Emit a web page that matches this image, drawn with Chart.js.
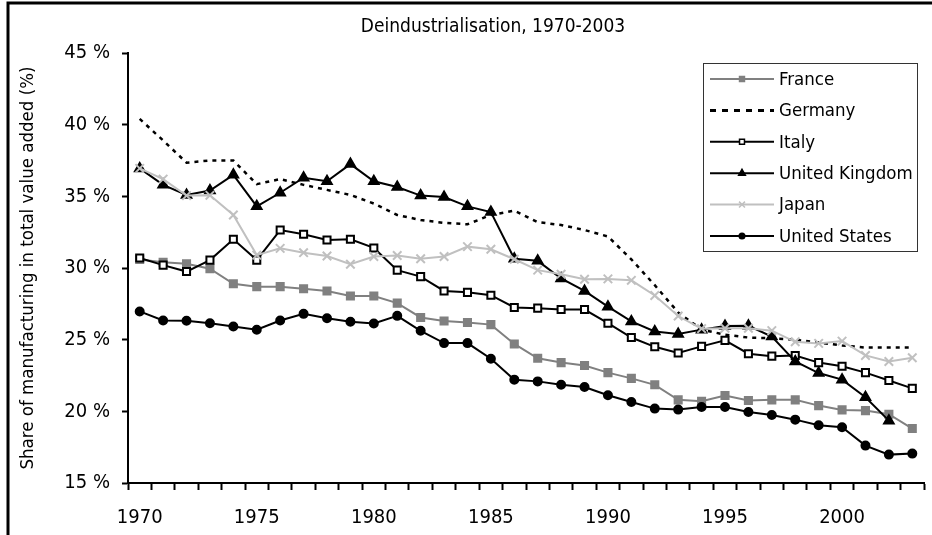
<!DOCTYPE html>
<html>
<head>
<meta charset="utf-8">
<script src="https://cdn.jsdelivr.net/npm/chart.js@4"></script>
<style>
  body { margin: 0; background: #fff; }
  #wrap { width: 932px; height: 535px; }
</style>
</head>
<body>
<div id="wrap"><canvas id="myChart" width="932" height="535"></canvas></div>
<script>
const FONT = "'Liberation Sans Narrow', 'DejaVu Sans Condensed', sans-serif";

const years = [];
for (let y = 1970; y <= 2003; y++) years.push(String(y));

const yTicks = [15, 20, 25, 30, 35, 40, 45];

const france = [30.6, 30.4, 30.3, 29.95, 28.9, 28.7, 28.7, 28.55, 28.4, 28.05, 28.05, 27.55, 26.55, 26.3, 26.2, 26.05, 24.7, 23.7, 23.4, 23.2, 22.7, 22.3, 21.85, 20.8, 20.7, 21.1, 20.75, 20.8, 20.8, 20.4, 20.1, 20.05, 19.8, 18.8];
const germany = [40.4, 38.9, 37.35, 37.5, 37.5, 35.85, 36.2, 35.8, 35.45, 35.1, 34.5, 33.7, 33.35, 33.15, 33.05, 33.7, 34.0, 33.2, 33.0, 32.65, 32.2, 30.6, 28.8, 26.9, 25.7, 25.35, 25.15, 25.1, 25.0, 24.8, 24.6, 24.45, 24.45, 24.45];
const italy = [30.7, 30.2, 29.75, 30.55, 32.0, 30.55, 32.65, 32.35, 31.95, 32.0, 31.4, 29.85, 29.4, 28.4, 28.3, 28.1, 27.25, 27.2, 27.1, 27.1, 26.15, 25.15, 24.5, 24.07, 24.53, 24.95, 24.02, 23.85, 23.9, 23.4, 23.15, 22.7, 22.15, 21.6];
const uk = [36.95, 35.8, 35.1, 35.4, 36.5, 34.3, 35.25, 36.3, 36.05, 37.25, 36.05, 35.65, 35.05, 34.95, 34.3, 33.9, 30.65, 30.5, 29.27, 28.4, 27.3, 26.27, 25.57, 25.39, 25.7, 25.95, 25.97, 25.22, 23.48, 22.67, 22.21, 20.98, 19.35, null];
const japan = [36.95, 36.2, 35.05, 35.07, 33.7, 30.9, 31.37, 31.07, 30.84, 30.26, 30.8, 30.87, 30.65, 30.8, 31.49, 31.31, 30.61, 29.85, 29.57, 29.22, 29.24, 29.14, 28.08, 26.65, 25.77, 25.8, 25.8, 25.63, 24.85, 24.74, 24.9, 23.9, 23.48, 23.74];
const usa = [26.97, 26.34, 26.32, 26.15, 25.92, 25.69, 26.34, 26.8, 26.5, 26.25, 26.13, 26.66, 25.62, 24.76, 24.76, 23.67, 22.21, 22.09, 21.86, 21.7, 21.12, 20.65, 20.19, 20.12, 20.3, 20.3, 19.95, 19.75, 19.42, 19.03, 18.89, 17.61, 16.98, 17.05];

const series = [
    { label: 'France', data: france, color: '#808080', fill: '#808080', style: 'rect', radius: 5, dash: [] },
    { label: 'Germany', data: germany, color: '#000', fill: '#000', style: false, radius: 0, dash: [4, 5] },
    { label: 'Italy', data: italy, color: '#000', fill: '#fff', style: 'rect', radius: 5, dash: [] },
    { label: 'United Kingdom', data: uk, color: '#000', fill: '#000', style: 'triangle', radius: 5.5, dash: [] },
    { label: 'Japan', data: japan, color: '#c0c0c0', fill: '#c0c0c0', style: 'crossRot', radius: 6, dash: [] },
    { label: 'United States', data: usa, color: '#000', fill: '#000', style: 'circle', radius: 4, dash: [] },
];

let datasets = series.map((s, i) => ({
    label: s.label,
    data: s.data,
    borderColor: s.color,
    backgroundColor: s.fill,
    borderWidth: s.dash.length ? 2.5 : 2,
    borderDash: s.dash,
    pointStyle: s.style,
    pointRadius: s.radius,
    pointBorderWidth: 2,
    pointBorderColor: s.color,
    pointBackgroundColor: s.fill,
    tension: 0,
    spanGaps: false,
    order: series.length - i,
}));

// title, legend box and outer frame
const extras = {
    id: 'extras',
    afterDraw(chart) {
        const ctx = chart.ctx;
        ctx.save();
        // frame
        ctx.strokeStyle = '#000';
        ctx.lineWidth = 3;
        ctx.beginPath();
        ctx.moveTo(8, 540);
        ctx.lineTo(8, 3);
        ctx.lineTo(940, 3);
        ctx.stroke();

        // title
        ctx.fillStyle = '#000';
        ctx.font = '19px ' + FONT;
        ctx.textAlign = 'center';
        ctx.textBaseline = 'middle';
        ctx.fillText('Deindustrialisation, 1970-2003', 493, 27);

        // legend
        const bx = 703, by = 63, bw = 214, bh = 188;
        ctx.fillStyle = '#fff';
        ctx.fillRect(bx, by, bw, bh);
        ctx.strokeStyle = '#333';
        ctx.lineWidth = 1;
        ctx.strokeRect(bx + 0.5, by + 0.5, bw, bh);
        series.forEach((s, i) => {
            const y = 79 + i * 31.4;
            ctx.strokeStyle = s.color;
            ctx.lineWidth = s.dash.length ? 3 : 2;
            ctx.setLineDash(s.dash.length ? [6, 6] : []);
            ctx.beginPath();
            ctx.moveTo(710, y);
            ctx.lineTo(774, y);
            ctx.stroke();
            ctx.setLineDash([]);
            if (s.style) {
                ctx.fillStyle = s.fill;
                ctx.strokeStyle = s.color;
                ctx.lineWidth = 1.5;
                Chart.helpers.drawPoint(ctx, { pointStyle: s.style, radius: s.radius * 0.7, borderWidth: 1.5, rotation: 0 }, 742, y);
            }
            ctx.fillStyle = '#000';
            ctx.font = '18.5px ' + FONT;
            ctx.textAlign = 'left';
            ctx.textBaseline = 'middle';
            ctx.fillText(s.label, 779, y + 1);
        });
        ctx.restore();
    }
};

const myChart = new Chart(document.getElementById('myChart'), {
    type: 'line',
    data: { labels: years, datasets: datasets },
    options: {
        responsive: false,
        animation: false,
        events: [],
        layout: { padding: { top: 53, left: 17, right: 2, bottom: 0 } },
        plugins: {
            legend: { display: false },
            title: { display: false },
            tooltip: { enabled: false },
        },
        scales: {
            x: {
                type: 'category',
                offset: true,
                grid: {
                    offset: true,
                    drawOnChartArea: false,
                    drawTicks: true,
                    tickLength: 7,
                    tickWidth: 2,
                    tickColor: '#000',
                },
                border: { display: true, color: '#000', width: 2 },
                ticks: {
                    autoSkip: false,
                    maxRotation: 0,
                    color: '#000',
                    padding: 16,
                    font: { family: FONT, size: 20 },
                    callback: function (v, i) {
                        const yr = years[i];
                        return Number(yr) % 5 === 0 ? yr : '';
                    }
                },
                afterFit: (scale) => { scale.height = 52; }
            },
            y: {
                min: 15,
                max: 45,
                afterBuildTicks: (scale) => { scale.ticks = yTicks.map(v => ({ value: v })); },
                grid: {
                    drawOnChartArea: false,
                    drawTicks: true,
                    tickLength: 6,
                    tickWidth: 2,
                    tickColor: '#000',
                },
                border: { display: true, color: '#000', width: 2 },
                ticks: {
                    color: '#000',
                    padding: 12,
                    font: { family: FONT, size: 20 },
                    callback: (v) => v + ' %'
                },
                title: {
                    display: true,
                    text: 'Share of manufacturing in total value added (%)',
                    color: '#000',
                    font: { family: FONT, size: 18.5 },
                    padding: { top: 0, bottom: 6 }
                },
                afterFit: (scale) => { scale.width = 111; }
            }
        }
    },
    plugins: [extras]
});
</script>
</body>
</html>
